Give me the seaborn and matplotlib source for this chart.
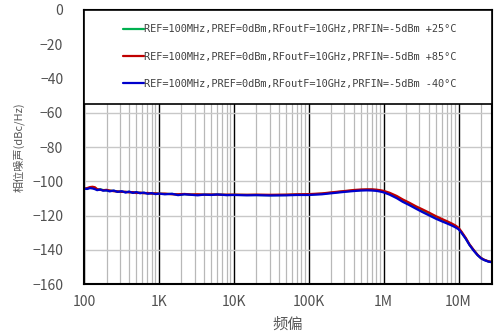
import numpy as np
import pandas as pd
import seaborn as sns
import matplotlib.pyplot as plt
from matplotlib.patches import Rectangle
from matplotlib.ticker import FixedLocator, LogLocator, NullFormatter

# offset frequency (Hz)
freq = [100, 110, 120, 130, 140, 150, 165, 180, 200, 220, 250, 280, 320, 360, 400, 450,
        500, 560, 630, 710, 800, 900, 1e3, 1.2e3, 1.5e3, 1.8e3, 2.2e3, 2.7e3, 3.3e3, 4e3,
        5e3, 6e3, 8e3, 1e4, 1.5e4, 2e4, 3e4, 5e4, 7e4, 1e5, 1.5e5, 2e5, 3e5, 4e5, 5e5, 6e5,
        7e5, 8e5, 9e5, 1e6, 1.2e6, 1.5e6, 1.8e6, 2.2e6, 2.7e6, 3.3e6, 4e6, 5e6, 6e6, 7e6,
        8e6, 9e6, 1e7, 1.1e7, 1.25e7, 1.4e7, 1.6e7, 1.8e7, 2e7, 2.2e7, 2.5e7, 2.8e7]

pn_25 = [-104.4, -104.2, -103.8, -103.7, -104.0, -104.9, -104.7, -105.1, -105.4, -105.5,
         -105.6, -106.0, -106.1, -106.3, -106.2, -106.6, -106.5, -106.8, -106.8, -107.0,
         -107.0, -107.2, -107.2, -107.4, -107.4, -107.8, -107.5, -107.8, -107.9, -107.8,
         -107.9, -107.7, -108.0, -107.9, -108.0, -108.0, -108.1, -108.0, -107.8, -107.7,
         -107.3, -106.7, -105.9, -105.4, -105.1, -105.0, -105.0, -105.2, -105.6, -106.0,
         -107.2, -109.2, -111.3, -113.2, -115.4, -117.4, -119.2, -121.3, -122.8, -124.1,
         -125.2, -126.3, -127.6, -129.9, -133.4, -137.0, -140.4, -143.1, -144.9, -145.9,
         -146.8, -147.2]

pn_85 = [-104.5, -104.0, -103.4, -103.2, -103.5, -104.6, -105.0, -105.2, -105.0, -105.4,
         -105.8, -105.9, -106.2, -106.1, -106.5, -106.3, -106.9, -106.6, -107.0, -106.8,
         -107.2, -107.0, -107.3, -107.2, -107.6, -107.6, -107.4, -107.7, -107.6, -107.8,
         -107.7, -107.8, -107.8, -107.8, -107.9, -107.8, -107.9, -107.8, -107.6, -107.5,
         -107.1, -106.5, -105.7, -105.1, -104.8, -104.7, -104.7, -104.9, -105.2, -105.6,
         -106.7, -108.6, -110.6, -112.5, -114.6, -116.4, -118.2, -120.4, -122.0, -123.3,
         -124.5, -125.7, -127.1, -129.5, -133.1, -136.8, -140.2, -143.0, -144.8, -145.8,
         -146.7, -147.1]

pn_m40 = [-104.3, -104.5, -104.0, -104.2, -104.6, -105.2, -104.8, -105.5, -105.3, -105.9,
          -105.4, -106.2, -105.8, -106.6, -106.0, -106.8, -106.3, -107.0, -106.6, -107.3,
          -106.9, -107.5, -107.2, -107.6, -107.3, -108.1, -107.6, -107.9, -108.2, -107.8,
          -108.0, -107.7, -108.1, -108.0, -108.2, -108.1, -108.3, -108.2, -108.0, -108.0,
          -107.6, -107.0, -106.2, -105.7, -105.4, -105.3, -105.4, -105.6, -106.0, -106.5,
          -107.8, -109.9, -112.0, -113.9, -116.0, -118.0, -119.8, -121.9, -123.4, -124.6,
          -125.7, -126.8, -128.0, -130.2, -133.6, -137.2, -140.6, -143.2, -145.0, -146.0,
          -146.9, -147.3]

labels = ['REF=100MHz,PREF=0dBm,RFoutF=10GHz,PRFIN=-5dBm +25°C',
          'REF=100MHz,PREF=0dBm,RFoutF=10GHz,PRFIN=-5dBm +85°C',
          'REF=100MHz,PREF=0dBm,RFoutF=10GHz,PRFIN=-5dBm -40°C']
colors = ['#00b050', '#c00000', '#0000cc']

xtick_vals = [1e2, 1e3, 1e4, 1e5, 1e6, 1e7]
xtick_labels = ['100', '1K', '10K', '100K', '1M', '10M']
ytick_vals = [0, -20, -40, -60, -80, -100, -120, -140, -160]

df = pd.DataFrame({
    'freq': freq * 3,
    'pn': pn_25 + pn_85 + pn_m40,
    'curve': np.repeat(labels, len(freq)),
})

sns.set_style('white')
plt.rcParams['font.family'] = ['Noto Sans CJK SC', 'DejaVu Sans']
plt.rcParams['axes.unicode_minus'] = True

fig = plt.figure(figsize=(4.94, 3.33), dpi=100)
ax = fig.add_axes([0.170, 0.147, 0.826, 0.823])

sns.lineplot(data=df, x='freq', y='pn', hue='curve', palette=colors, hue_order=labels,
             linewidth=1.6, ax=ax, legend=False, zorder=2)

ax.set_xscale('log')
ax.set_xlim(100, 2.8e7)
ax.set_ylim(-160, 0)

# grid: black decades, grey minors, grey horizontals
ax.xaxis.set_major_locator(FixedLocator(xtick_vals))
ax.xaxis.set_minor_locator(LogLocator(base=10, subs=np.arange(2, 10)))
ax.xaxis.set_minor_formatter(NullFormatter())
ax.set_xticks(xtick_vals)
ax.set_xticklabels(xtick_labels)
ax.set_yticks(ytick_vals)
ax.grid(True, which='major', axis='x', color='black', linewidth=1.0, zorder=0)
ax.grid(True, which='minor', axis='x', color='#b8b8b8', linewidth=0.9, zorder=0)
ax.grid(True, which='major', axis='y', color='#c8c8c8', linewidth=1.0, zorder=0)
ax.set_axisbelow(True)
ax.tick_params(which='both', length=0, labelsize=10, labelcolor='#505050')
ax.tick_params(axis='y', pad=15)
ax.tick_params(axis='x', pad=8)

for s in ax.spines.values():
    s.set_color('black')
    s.set_linewidth(1.5)

ax.set_xlabel('频偏', fontsize=11, color='#595959', labelpad=5)
ax.set_ylabel('相位噪声(dBc/Hz)', fontsize=8, color='#595959', labelpad=5)

# legend box across the top of the plot
ax.add_patch(Rectangle((0, 0.657), 1, 0.343, transform=ax.transAxes, facecolor='white',
                       edgecolor='black', linewidth=1.2, zorder=3))
handles = [plt.Line2D([], [], color=c, linewidth=1.6) for c in colors]
leg = ax.legend(handles, labels, loc='center', bbox_to_anchor=(0.505, 0.83),
                frameon=False, handlelength=2.0, handletextpad=0.05,
                labelspacing=1.7, labelcolor='#404040',
                prop={'family': ['DejaVu Sans Mono', 'Liberation Mono'], 'size': 7.4})
leg.set_zorder(5)

fig.savefig('out.png', dpi=100)
